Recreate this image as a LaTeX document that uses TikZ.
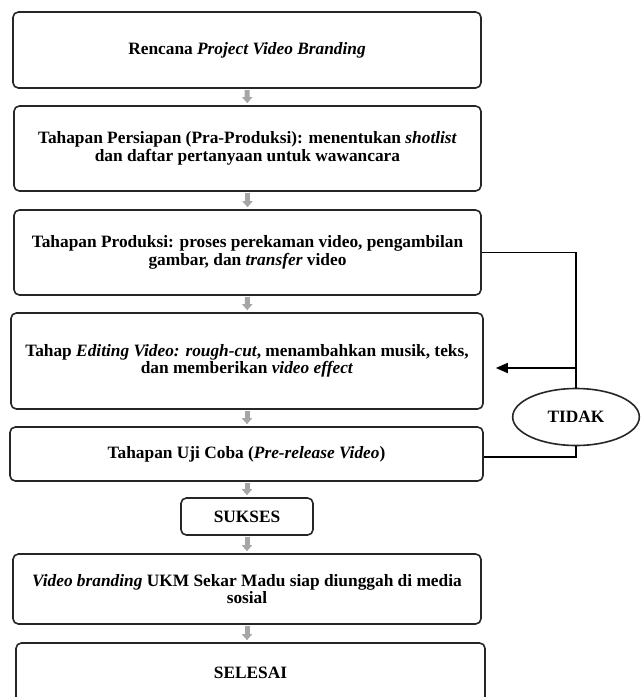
\documentclass[tikz,border=0pt]{standalone}
\usepackage{fontspec}
\setmainfont{Liberation Serif}
\usepackage{tikz}
\usetikzlibrary{calc}
\usetikzlibrary{arrows.meta}
\usetikzlibrary{shapes.geometric}
\usetikzlibrary{positioning}
\begin{document}
\begin{tikzpicture}[x=0.75pt,y=-0.75pt,
		stage/.style={draw=black!85,line width=1.2pt,rounded corners=4pt,align=center,inner sep=2pt,
			font=\fontsize{13}{13}\selectfont\bfseries},
		tidakbubble/.style={draw=black!85,line width=1.2pt,ellipse,inner sep=0pt,
			minimum width=95pt,minimum height=42.75pt,font=\fontsize{13}{13}\selectfont\bfseries},
		grayarrow/.style={draw=black!35,line width=3.75pt,-{Triangle[width=7.5pt,length=4.5pt]},
			shorten <=1pt,shorten >=1.5pt},
		loopline/.style={draw=black,line width=1.3pt}]
		\useasboundingbox (0,0) rectangle (640,697);
		% kotak alur
		\node[stage,minimum width=351pt,minimum height=57pt] (rencana) at (247,50) {Rencana \textit{Project Video Branding}};
		\node[stage,minimum width=350.25pt,minimum height=63.75pt] (persiapan) at (247.5,148.5) {Tahapan Persiapan (Pra-Produksi): menentukan \textit{shotlist}\\ dan daftar pertanyaan untuk wawancara};
		\node[stage,minimum width=350.25pt,minimum height=63.75pt] (produksi) at (247.5,252.5) {Tahapan Produksi: proses perekaman video, pengambilan\\ gambar, dan \textit{transfer} video};
		\node[stage,minimum width=354pt,minimum height=72pt] (editing) at (247,361) {Tahap \textit{Editing Video: rough-cut}, menambahkan musik, teks,\\ dan memberikan \textit{video effect}};
		\node[stage,minimum width=354.75pt,minimum height=40.5pt] (ujicoba) at (246.5,454) {Tahapan Uji Coba (\textit{Pre-release Video})};
		\node[stage,minimum width=99pt,minimum height=27.75pt] (sukses) at (247,516.5) {SUKSES};
		\node[stage,minimum width=351pt,minimum height=52.5pt] (unggah) at (247,589) {\textit{Video branding} UKM Sekar Madu siap diunggah di media\\ sosial};
		\node[stage,minimum width=351.75pt,minimum height=45pt] (selesai) at (250.5,673) {SELESAI};
		\node[tidakbubble] (tidak) at (576,417) {TIDAK};
		% panah abu-abu
		\draw[grayarrow] (rencana) -- (persiapan);
		\draw[grayarrow] (persiapan) -- (produksi);
		\draw[grayarrow] (produksi) -- (editing);
		\draw[grayarrow] (editing.south) -- (editing.south |- ujicoba.north);
		\draw[grayarrow] (ujicoba.south -| sukses.north) -- (sukses.north);
		\draw[grayarrow] (sukses) -- (sukses |- unggah.north);
		\draw[grayarrow] (unggah.south) -- (unggah.south |- selesai.north);
		% jalur kembali
		\coordinate (belok) at (576,368);
		\draw[loopline] (produksi.east) -| (tidak.north);
		\draw[loopline,-{Triangle[width=7.5pt,length=9pt]},shorten >=9pt] (belok) -- (belok -| editing.east);
		\draw[loopline] (tidak.south) |- ($(ujicoba.east)+(0,3)$);
	\end{tikzpicture}
\end{document}
